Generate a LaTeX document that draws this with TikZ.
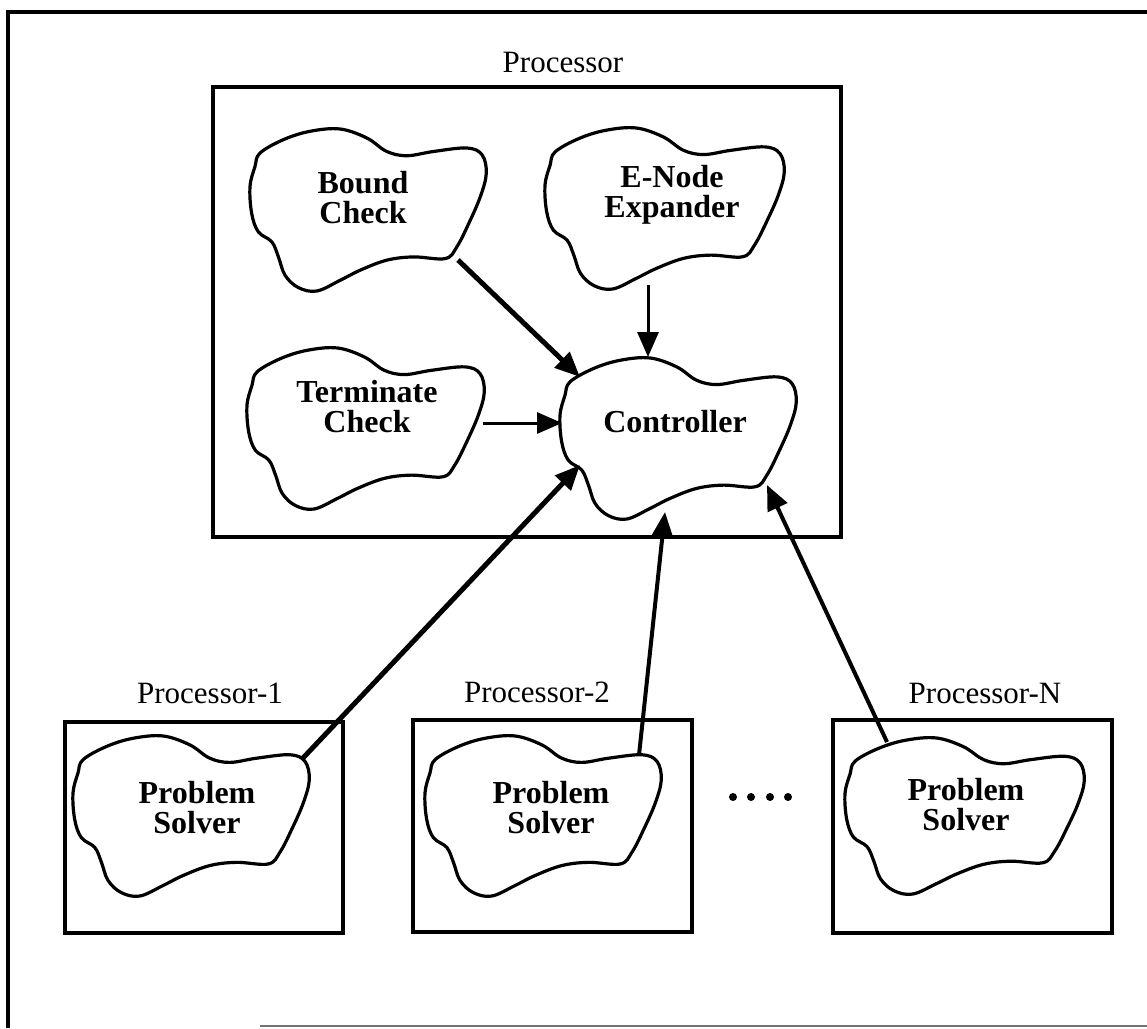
\documentclass[tikz,border=0pt]{standalone}
\usepackage{fontspec}
\setmainfont{Liberation Serif}
\usetikzlibrary{arrows.meta}

% Irregular blob outline in a unit box (x right, y down)
\newcommand\blobpath{plot[smooth cycle, tension=0.6] coordinates {
  (0.042,0.153) (0.141,0.071) (0.254,0.020) (0.380,0.006) (0.493,0.061)
  (0.577,0.143) (0.662,0.169) (0.775,0.143) (0.915,0.122) (0.979,0.163)
  (0.997,0.276) (0.972,0.418) (0.923,0.582) (0.873,0.724) (0.824,0.796)
  (0.690,0.786) (0.577,0.806) (0.465,0.867) (0.380,0.929) (0.282,0.994)
  (0.204,0.973) (0.148,0.898) (0.120,0.786) (0.092,0.694) (0.035,0.633)
  (0.007,0.520) (0.000,0.357) (0.021,0.235)}}

\tikzset{
  frameline/.style={line width=4pt},
  boxline/.style={line width=3.5pt},
  cloudline/.style={line width=3.2pt, line join=round},
  cloudtext/.style={font=\fontsize{32}{30}\selectfont\bfseries, inner sep=0pt, anchor=base},
  boxtitle/.style={font=\fontsize{31}{30}\selectfont, inner sep=0pt, anchor=base},
  flow/.style={-{Triangle[length=25pt,width=21pt]}, line width=3pt},
  heavyflow/.style={flow, line width=5pt},
  dot/.style={circle, fill=black, inner sep=0pt, minimum size=8pt},
}

\begin{document}
\begin{tikzpicture}[x=1pt, y=-1pt]
\useasboundingbox (0,0) rectangle (1147,1028);

% page frame
\draw[frameline] (1147,12) -- (8,12) -- (8,1028);
\draw[line width=2pt, black!55] (260,1026) -- (1147,1026);

% main processor
\node[boxtitle] (ptitle) at (563,72) {Processor};
\draw[boxline] (213,87) rectangle (841,537);

% blobs inside the main processor
\begin{scope}[shift={(250,128)}, xscale=237, yscale=164]
  \draw[cloudline] \blobpath;
\end{scope}
\node[cloudtext] (bound1) at (363,193) {Bound};
\node[cloudtext] (bound2) at (363,223) {Check};

\begin{scope}[shift={(545,127)}, xscale=240, yscale=163]
  \draw[cloudline] \blobpath;
\end{scope}
\node[cloudtext] (enode1) at (672,187) {E-Node};
\node[cloudtext] (enode2) at (672,217) {Expander};

\begin{scope}[shift={(247,347)}, xscale=238, yscale=163]
  \draw[cloudline] \blobpath;
\end{scope}
\node[cloudtext] (term1) at (367,402) {Terminate};
\node[cloudtext] (term2) at (367,432) {Check};

\begin{scope}[shift={(560,357)}, xscale=237, yscale=163]
  \draw[cloudline] \blobpath;
\end{scope}
\node[cloudtext] (ctrl) at (675,432) {Controller};

% worker processors
\node[boxtitle] (p1title) at (210,703) {Processor-1};
\draw[boxline] (65,722) rectangle (343,933);
\begin{scope}[shift={(73,735)}, xscale=237, yscale=162]
  \draw[cloudline] \blobpath;
\end{scope}
\node[cloudtext] (ps1a) at (197,803) {Problem};
\node[cloudtext] (ps1b) at (197,833) {Solver};

\node[boxtitle] (p2title) at (537,702) {Processor-2};
\draw[boxline] (413,720) rectangle (692,932);
\begin{scope}[shift={(425,735)}, xscale=237, yscale=162]
  \draw[cloudline] \blobpath;
\end{scope}
\node[cloudtext] (ps2a) at (551,803) {Problem};
\node[cloudtext] (ps2b) at (551,833) {Solver};

\node[boxtitle] (pntitle) at (985,703) {Processor-N};
\draw[boxline] (833,720) rectangle (1112,933);
\begin{scope}[shift={(845,737)}, xscale=240, yscale=158]
  \draw[cloudline] \blobpath;
\end{scope}
\node[cloudtext] (psna) at (966,800) {Problem};
\node[cloudtext] (psnb) at (966,830) {Solver};

% ellipsis between the workers
\node[dot] (d1) at (733,797) {};
\node[dot] (d2) at (751,797) {};
\node[dot] (d3) at (770,797) {};
\node[dot] (d4) at (788,797) {};

% connector end points on the blob outlines
\coordinate (bound-out) at (458,260);
\coordinate (enode-out) at (648,285);
\coordinate (term-out)  at (483,423);
\coordinate (ps1-out)   at (303,758);
\coordinate (ps2-out)   at (639,755);
\coordinate (psn-out)   at (887,742);
\coordinate (ctrl-nw)   at (580,377);
\coordinate (ctrl-n)    at (648,357);
\coordinate (ctrl-w)    at (562,423);
\coordinate (ctrl-sw)   at (580,465);
\coordinate (ctrl-s)    at (665,512);
\coordinate (ctrl-se)   at (767,485);

% connectors
\draw[heavyflow] (bound-out) -- (ctrl-nw);
\draw[flow] (enode-out) -- (ctrl-n);
\draw[flow] (term-out) -- (ctrl-w);
\draw[heavyflow] (ps1-out) -- (ctrl-sw);
\draw[flow, line width=4pt] (ps2-out) -- (ctrl-s);
\draw[flow, line width=4pt] (psn-out) -- (ctrl-se);
\end{tikzpicture}
\end{document}
